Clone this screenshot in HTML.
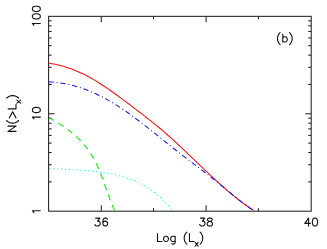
<!DOCTYPE html>
<html><head><meta charset="utf-8"><style>
html,body{margin:0;padding:0;background:#fff;}
svg{display:block;}
text{font-family:"Liberation Sans",sans-serif;fill:#222;}
</style></head><body>
<svg width="327" height="249" viewBox="0 0 327 249">
<rect width="327" height="249" fill="#fff"/>
<g stroke="#222" stroke-width="1.05" fill="none">
<rect x="48.60" y="16.35" width="262.60" height="194.85"/>
<line x1="101.30" y1="211.20" x2="101.30" y2="205.20"/>
<line x1="101.30" y1="16.35" x2="101.30" y2="22.35"/>
<line x1="153.50" y1="211.20" x2="153.50" y2="208.20"/>
<line x1="153.50" y1="16.35" x2="153.50" y2="19.35"/>
<line x1="206.10" y1="211.20" x2="206.10" y2="205.20"/>
<line x1="206.10" y1="16.35" x2="206.10" y2="22.35"/>
<line x1="258.40" y1="211.20" x2="258.40" y2="208.20"/>
<line x1="258.40" y1="16.35" x2="258.40" y2="19.35"/>
<line x1="48.60" y1="181.87" x2="51.60" y2="181.87"/>
<line x1="311.20" y1="181.87" x2="308.20" y2="181.87"/>
<line x1="48.60" y1="164.72" x2="51.60" y2="164.72"/>
<line x1="311.20" y1="164.72" x2="308.20" y2="164.72"/>
<line x1="48.60" y1="152.54" x2="51.60" y2="152.54"/>
<line x1="311.20" y1="152.54" x2="308.20" y2="152.54"/>
<line x1="48.60" y1="143.10" x2="51.60" y2="143.10"/>
<line x1="311.20" y1="143.10" x2="308.20" y2="143.10"/>
<line x1="48.60" y1="135.39" x2="51.60" y2="135.39"/>
<line x1="311.20" y1="135.39" x2="308.20" y2="135.39"/>
<line x1="48.60" y1="128.87" x2="51.60" y2="128.87"/>
<line x1="311.20" y1="128.87" x2="308.20" y2="128.87"/>
<line x1="48.60" y1="123.22" x2="51.60" y2="123.22"/>
<line x1="311.20" y1="123.22" x2="308.20" y2="123.22"/>
<line x1="48.60" y1="118.23" x2="51.60" y2="118.23"/>
<line x1="311.20" y1="118.23" x2="308.20" y2="118.23"/>
<line x1="48.60" y1="113.77" x2="54.60" y2="113.77"/>
<line x1="311.20" y1="113.77" x2="305.20" y2="113.77"/>
<line x1="48.60" y1="84.45" x2="51.60" y2="84.45"/>
<line x1="311.20" y1="84.45" x2="308.20" y2="84.45"/>
<line x1="48.60" y1="67.29" x2="51.60" y2="67.29"/>
<line x1="311.20" y1="67.29" x2="308.20" y2="67.29"/>
<line x1="48.60" y1="55.12" x2="51.60" y2="55.12"/>
<line x1="311.20" y1="55.12" x2="308.20" y2="55.12"/>
<line x1="48.60" y1="45.68" x2="51.60" y2="45.68"/>
<line x1="311.20" y1="45.68" x2="308.20" y2="45.68"/>
<line x1="48.60" y1="37.96" x2="51.60" y2="37.96"/>
<line x1="311.20" y1="37.96" x2="308.20" y2="37.96"/>
<line x1="48.60" y1="31.44" x2="51.60" y2="31.44"/>
<line x1="311.20" y1="31.44" x2="308.20" y2="31.44"/>
<line x1="48.60" y1="25.79" x2="51.60" y2="25.79"/>
<line x1="311.20" y1="25.79" x2="308.20" y2="25.79"/>
<line x1="48.60" y1="20.81" x2="51.60" y2="20.81"/>
<line x1="311.20" y1="20.81" x2="308.20" y2="20.81"/>
</g>
<g fill="none" stroke-width="1.05">
<path d="M48.50,168.22 C49.03,168.26 50.60,168.40 51.65,168.49 C52.70,168.57 53.75,168.65 54.80,168.73 C55.85,168.81 56.90,168.88 57.95,168.95 C59.00,169.01 60.05,169.08 61.11,169.14 C62.16,169.21 63.21,169.27 64.26,169.33 C65.31,169.39 66.36,169.44 67.41,169.50 C68.46,169.56 69.51,169.61 70.56,169.67 C71.61,169.73 72.66,169.79 73.71,169.84 C74.76,169.90 75.81,169.96 76.86,170.03 C77.91,170.09 78.96,170.15 80.01,170.22 C81.06,170.29 82.11,170.35 83.16,170.43 C84.21,170.50 85.26,170.58 86.32,170.66 C87.37,170.74 88.42,170.83 89.47,170.92 C90.52,171.02 91.57,171.11 92.62,171.22 C93.67,171.32 94.72,171.43 95.77,171.55 C96.82,171.67 97.87,171.80 98.92,171.93 C99.97,172.07 101.02,172.21 102.07,172.36 C103.12,172.51 104.17,172.67 105.22,172.84 C106.27,173.01 107.32,173.19 108.37,173.38 C109.42,173.57 110.48,173.77 111.53,173.99 C112.58,174.20 113.63,174.43 114.68,174.67 C115.73,174.90 116.78,175.15 117.83,175.42 C118.88,175.68 119.93,175.96 120.98,176.25 C122.03,176.54 123.08,176.85 124.13,177.17 C125.18,177.49 126.23,177.83 127.28,178.18 C128.33,178.53 129.38,178.90 130.43,179.29 C131.48,179.68 132.53,180.08 133.58,180.51 C134.64,180.94 135.69,181.39 136.74,181.86 C137.79,182.33 138.84,182.82 139.89,183.34 C140.94,183.87 141.99,184.41 143.04,184.99 C144.09,185.56 145.14,186.16 146.19,186.80 C147.24,187.43 148.29,188.09 149.34,188.79 C150.39,189.49 151.44,190.22 152.49,190.99 C153.54,191.76 154.59,192.57 155.64,193.41 C156.69,194.26 157.74,195.14 158.79,196.07 C159.85,197.00 160.90,197.97 161.95,198.98 C163.00,200.00 164.05,201.06 165.10,202.16 C166.15,203.27 167.20,204.43 168.25,205.63 C169.30,206.84 170.87,208.78 171.40,209.41" stroke="#00ffff" stroke-dasharray="1.2 2.7" stroke-dashoffset="-0.7"/>
<path d="M49.33,118.00 C50.05,118.40 52.25,119.59 53.64,120.38 C55.03,121.18 56.38,121.97 57.68,122.77 C58.98,123.56 60.24,124.36 61.46,125.15 C62.68,125.95 63.85,126.74 64.99,127.54 C66.13,128.33 67.22,129.13 68.28,129.92 C69.34,130.72 70.36,131.51 71.35,132.31 C72.33,133.10 73.28,133.90 74.20,134.69 C75.12,135.49 76.00,136.28 76.85,137.08 C77.70,137.87 78.52,138.67 79.31,139.46 C80.10,140.26 80.86,141.05 81.60,141.85 C82.33,142.64 83.03,143.44 83.71,144.23 C84.39,145.03 85.05,145.82 85.68,146.62 C86.31,147.41 86.91,148.21 87.50,149.00 C88.08,149.79 88.64,150.59 89.19,151.38 C89.73,152.18 90.25,152.97 90.76,153.77 C91.27,154.56 91.75,155.36 92.23,156.15 C92.70,156.95 93.15,157.74 93.60,158.54 C94.04,159.33 94.47,160.13 94.89,160.92 C95.30,161.72 95.71,162.51 96.10,163.31 C96.49,164.10 96.87,164.90 97.25,165.69 C97.62,166.49 97.98,167.28 98.33,168.08 C98.68,168.87 99.03,169.67 99.36,170.46 C99.70,171.26 100.02,172.05 100.34,172.85 C100.66,173.64 100.98,174.44 101.28,175.23 C101.59,176.03 101.89,176.82 102.19,177.62 C102.49,178.41 102.78,179.21 103.07,180.00 C103.35,180.79 103.64,181.59 103.92,182.38 C104.20,183.18 104.48,183.97 104.76,184.77 C105.04,185.56 105.32,186.36 105.59,187.15 C105.87,187.95 106.14,188.74 106.42,189.54 C106.70,190.33 106.97,191.13 107.25,191.92 C107.53,192.72 107.81,193.51 108.10,194.31 C108.38,195.10 108.67,195.90 108.96,196.69 C109.25,197.49 109.55,198.28 109.85,199.08 C110.15,199.87 110.45,200.67 110.77,201.46 C111.08,202.26 111.39,203.05 111.72,203.85 C112.05,204.64 112.38,205.44 112.72,206.23 C113.06,207.03 113.41,207.82 113.77,208.62 C114.13,209.41 114.69,210.60 114.87,211.00" stroke="#00ee00" stroke-dasharray="6.2 5" stroke-dashoffset="1"/>
<path d="M48.50,63.06 C49.08,63.16 50.82,63.44 51.98,63.66 C53.14,63.87 54.30,64.11 55.46,64.36 C56.62,64.62 57.78,64.89 58.94,65.18 C60.10,65.47 61.26,65.78 62.42,66.11 C63.57,66.43 64.73,66.78 65.89,67.15 C67.05,67.51 68.21,67.90 69.37,68.30 C70.53,68.70 71.69,69.13 72.85,69.57 C74.01,70.01 75.17,70.47 76.33,70.95 C77.49,71.44 78.65,71.94 79.81,72.46 C80.97,72.98 82.13,73.52 83.29,74.08 C84.45,74.64 85.61,75.22 86.77,75.82 C87.93,76.42 89.09,77.03 90.25,77.67 C91.41,78.31 92.56,78.98 93.72,79.65 C94.88,80.33 96.04,81.03 97.20,81.75 C98.36,82.47 99.52,83.20 100.68,83.95 C101.84,84.69 103.00,85.46 104.16,86.23 C105.32,87.01 106.48,87.80 107.64,88.60 C108.80,89.40 109.96,90.21 111.12,91.03 C112.28,91.85 113.44,92.68 114.60,93.51 C115.76,94.34 116.92,95.18 118.08,96.03 C119.24,96.88 120.40,97.73 121.56,98.58 C122.71,99.44 123.87,100.30 125.03,101.17 C126.19,102.03 127.35,102.90 128.51,103.78 C129.67,104.65 130.83,105.53 131.99,106.41 C133.15,107.29 134.31,108.18 135.47,109.06 C136.63,109.95 137.79,110.85 138.95,111.74 C140.11,112.63 141.27,113.53 142.43,114.43 C143.59,115.33 144.75,116.23 145.91,117.14 C147.07,118.04 148.23,118.95 149.39,119.86 C150.55,120.77 151.70,121.69 152.86,122.61 C154.02,123.54 155.18,124.47 156.34,125.41 C157.50,126.36 158.66,127.31 159.82,128.28 C160.98,129.25 162.14,130.23 163.30,131.22 C164.46,132.21 165.62,133.22 166.78,134.24 C167.94,135.26 169.10,136.29 170.26,137.33 C171.42,138.37 172.58,139.42 173.74,140.48 C174.90,141.54 176.06,142.61 177.22,143.68 C178.38,144.75 179.54,145.84 180.69,146.92 C181.85,148.01 183.01,149.11 184.17,150.21 C185.33,151.30 186.49,152.41 187.65,153.51 C188.81,154.62 189.97,155.73 191.13,156.84 C192.29,157.95 193.45,159.06 194.61,160.18 C195.77,161.29 196.93,162.40 198.09,163.52 C199.25,164.63 200.41,165.74 201.57,166.85 C202.73,167.96 203.89,169.06 205.05,170.16 C206.21,171.27 207.37,172.36 208.53,173.46 C209.69,174.55 210.84,175.64 212.00,176.72 C213.16,177.80 214.32,178.87 215.48,179.94 C216.64,181.01 217.80,182.07 218.96,183.11 C220.12,184.16 221.28,185.20 222.44,186.23 C223.60,187.26 224.76,188.28 225.92,189.28 C227.08,190.29 228.24,191.28 229.40,192.26 C230.56,193.24 231.72,194.21 232.88,195.16 C234.04,196.11 235.20,197.05 236.36,197.97 C237.52,198.89 238.68,199.80 239.83,200.68 C240.99,201.57 242.15,202.44 243.31,203.29 C244.47,204.14 245.63,204.97 246.79,205.78 C247.95,206.59 249.11,207.38 250.27,208.15 C251.43,208.92 253.17,210.02 253.75,210.39" stroke="#ff1010"/>
<path d="M48.50,81.94 C49.08,81.96 50.82,82.02 51.98,82.09 C53.14,82.16 54.30,82.25 55.46,82.36 C56.62,82.47 57.78,82.60 58.94,82.75 C60.10,82.90 61.26,83.07 62.42,83.26 C63.57,83.44 64.73,83.65 65.89,83.87 C67.05,84.10 68.21,84.35 69.37,84.61 C70.53,84.87 71.69,85.15 72.85,85.45 C74.01,85.76 75.17,86.08 76.33,86.41 C77.49,86.75 78.65,87.11 79.81,87.48 C80.97,87.85 82.13,88.25 83.29,88.66 C84.45,89.07 85.61,89.50 86.77,89.94 C87.93,90.39 89.09,90.85 90.25,91.33 C91.41,91.81 92.56,92.31 93.72,92.83 C94.88,93.35 96.04,93.88 97.20,94.43 C98.36,94.98 99.52,95.55 100.68,96.13 C101.84,96.72 103.00,97.32 104.16,97.94 C105.32,98.56 106.48,99.19 107.64,99.84 C108.80,100.49 109.96,101.16 111.12,101.85 C112.28,102.53 113.44,103.23 114.60,103.95 C115.76,104.67 116.92,105.40 118.08,106.15 C119.24,106.90 120.40,107.66 121.56,108.44 C122.71,109.21 123.87,110.01 125.03,110.81 C126.19,111.61 127.35,112.43 128.51,113.26 C129.67,114.08 130.83,114.92 131.99,115.77 C133.15,116.62 134.31,117.48 135.47,118.35 C136.63,119.21 137.79,120.09 138.95,120.97 C140.11,121.86 141.27,122.75 142.43,123.65 C143.59,124.54 144.75,125.45 145.91,126.36 C147.07,127.27 148.23,128.18 149.39,129.10 C150.55,130.02 151.70,130.94 152.86,131.86 C154.02,132.79 155.18,133.72 156.34,134.65 C157.50,135.57 158.66,136.51 159.82,137.44 C160.98,138.37 162.14,139.30 163.30,140.23 C164.46,141.16 165.62,142.08 166.78,143.01 C167.94,143.94 169.10,144.86 170.26,145.78 C171.42,146.70 172.58,147.62 173.74,148.53 C174.90,149.44 176.06,150.35 177.22,151.25 C178.38,152.15 179.54,153.05 180.69,153.94 C181.85,154.83 183.01,155.72 184.17,156.61 C185.33,157.50 186.49,158.38 187.65,159.26 C188.81,160.15 189.97,161.03 191.13,161.91 C192.29,162.79 193.45,163.67 194.61,164.56 C195.77,165.44 196.93,166.32 198.09,167.21 C199.25,168.09 200.41,168.98 201.57,169.87 C202.73,170.76 203.89,171.66 205.05,172.56 C206.21,173.46 207.37,174.36 208.53,175.27 C209.69,176.18 210.84,177.09 212.00,178.01 C213.16,178.93 214.32,179.86 215.48,180.79 C216.64,181.72 217.80,182.65 218.96,183.59 C220.12,184.54 221.28,185.48 222.44,186.44 C223.60,187.39 224.76,188.35 225.92,189.31 C227.08,190.27 228.24,191.24 229.40,192.20 C230.56,193.16 231.72,194.12 232.88,195.08 C234.04,196.03 235.20,196.98 236.36,197.92 C237.52,198.86 238.68,199.79 239.83,200.70 C240.99,201.61 242.15,202.51 243.31,203.39 C244.47,204.26 245.63,205.12 246.79,205.96 C247.95,206.79 249.11,207.61 250.27,208.39 C251.43,209.17 253.17,210.27 253.75,210.65" stroke="#1010ff" stroke-dasharray="5.2 2.9 0.95 2.9"/>
</g>
<g fill="none" stroke="#111" stroke-width="1.1" stroke-linecap="round" stroke-linejoin="round">
<path transform="translate(101.30,226.00) rotate(0) translate(-7.52,0)" d="M1.88,-7.90 L6.02,-7.90 L3.76,-4.89 L4.89,-4.89 L5.64,-4.51 L6.02,-4.14 L6.39,-3.01 L6.39,-2.26 L6.02,-1.13 L5.26,-0.38 L4.14,0.00 L3.01,0.00 L1.88,-0.38 L1.50,-0.75 L1.13,-1.50 M13.54,-6.77 L13.16,-7.52 L12.03,-7.90 L11.28,-7.90 L10.15,-7.52 L9.40,-6.39 L9.02,-4.51 L9.02,-2.63 L9.40,-1.13 L10.15,-0.38 L11.28,0.00 L11.66,0.00 L12.78,-0.38 L13.54,-1.13 L13.91,-2.26 L13.91,-2.63 L13.54,-3.76 L12.78,-4.51 L11.66,-4.89 L11.28,-4.89 L10.15,-4.51 L9.40,-3.76 L9.02,-2.63"/>
<path transform="translate(206.10,226.00) rotate(0) translate(-7.52,0)" d="M1.88,-7.90 L6.02,-7.90 L3.76,-4.89 L4.89,-4.89 L5.64,-4.51 L6.02,-4.14 L6.39,-3.01 L6.39,-2.26 L6.02,-1.13 L5.26,-0.38 L4.14,0.00 L3.01,0.00 L1.88,-0.38 L1.50,-0.75 L1.13,-1.50 M10.53,-7.90 L9.40,-7.52 L9.02,-6.77 L9.02,-6.02 L9.40,-5.26 L10.15,-4.89 L11.66,-4.51 L12.78,-4.14 L13.54,-3.38 L13.91,-2.63 L13.91,-1.50 L13.54,-0.75 L13.16,-0.38 L12.03,0.00 L10.53,0.00 L9.40,-0.38 L9.02,-0.75 L8.65,-1.50 L8.65,-2.63 L9.02,-3.38 L9.78,-4.14 L10.90,-4.51 L12.41,-4.89 L13.16,-5.26 L13.54,-6.02 L13.54,-6.77 L13.16,-7.52 L12.03,-7.90 L10.53,-7.90"/>
<path transform="translate(311.20,226.00) rotate(0) translate(-7.52,0)" d="M4.89,-7.90 L1.13,-2.63 L6.77,-2.63 M4.89,-7.90 L4.89,0.00 M10.90,-7.90 L9.78,-7.52 L9.02,-6.39 L8.65,-4.51 L8.65,-3.38 L9.02,-1.50 L9.78,-0.38 L10.90,0.00 L11.66,0.00 L12.78,-0.38 L13.54,-1.50 L13.91,-3.38 L13.91,-4.51 L13.54,-6.39 L12.78,-7.52 L11.66,-7.90 L10.90,-7.90"/>
<path transform="translate(156.00,241.50) rotate(0) translate(0.00,0)" d="M1.50,-7.90 L1.50,0.00 M1.50,0.00 L6.02,0.00 M9.40,-5.26 L8.65,-4.89 L7.90,-4.14 L7.52,-3.01 L7.52,-2.26 L7.90,-1.13 L8.65,-0.38 L9.40,0.00 L10.53,0.00 L11.28,-0.38 L12.03,-1.13 L12.41,-2.26 L12.41,-3.01 L12.03,-4.14 L11.28,-4.89 L10.53,-5.26 L9.40,-5.26 M19.18,-5.26 L19.18,0.75 L18.80,1.88 L18.42,2.26 L17.67,2.63 L16.54,2.63 L15.79,2.26 M19.18,-4.14 L18.42,-4.89 L17.67,-5.26 L16.54,-5.26 L15.79,-4.89 L15.04,-4.14 L14.66,-3.01 L14.66,-2.26 L15.04,-1.13 L15.79,-0.38 L16.54,0.00 L17.67,0.00 L18.42,-0.38 L19.18,-1.13 M30.83,-9.40 L30.08,-8.65 L29.33,-7.52 L28.58,-6.02 L28.20,-4.14 L28.20,-2.63 L28.58,-0.75 L29.33,0.75 L30.08,1.88 L30.83,2.63 M33.46,-7.90 L33.46,0.00 M33.46,0.00 L37.98,0.00 M39.16,0.91 L42.14,4.70 M42.14,0.91 L39.16,4.70 M44.08,-9.40 L44.83,-8.65 L45.59,-7.52 L46.34,-6.02 L46.71,-4.14 L46.71,-2.63 L46.34,-0.75 L45.59,0.75 L44.83,1.88 L44.08,2.63"/>
<path transform="translate(276.00,42.00) rotate(0) translate(0.00,0)" d="M4.14,-9.40 L3.38,-8.65 L2.63,-7.52 L1.88,-6.02 L1.50,-4.14 L1.50,-2.63 L1.88,-0.75 L2.63,0.75 L3.38,1.88 L4.14,2.63 M6.77,-7.90 L6.77,0.00 M6.77,-4.14 L7.52,-4.89 L8.27,-5.26 L9.40,-5.26 L10.15,-4.89 L10.90,-4.14 L11.28,-3.01 L11.28,-2.26 L10.90,-1.13 L10.15,-0.38 L9.40,0.00 L8.27,0.00 L7.52,-0.38 L6.77,-1.13 M13.54,-9.40 L14.29,-8.65 L15.04,-7.52 L15.79,-6.02 L16.17,-4.14 L16.17,-2.63 L15.79,-0.75 L15.04,0.75 L14.29,1.88 L13.54,2.63"/>
<path transform="translate(40.30,16.35) rotate(-90) translate(-11.28,0)" d="M2.26,-6.39 L3.01,-6.77 L4.14,-7.90 L4.14,0.00 M10.90,-7.90 L9.78,-7.52 L9.02,-6.39 L8.65,-4.51 L8.65,-3.38 L9.02,-1.50 L9.78,-0.38 L10.90,0.00 L11.66,0.00 L12.78,-0.38 L13.54,-1.50 L13.91,-3.38 L13.91,-4.51 L13.54,-6.39 L12.78,-7.52 L11.66,-7.90 L10.90,-7.90 M18.42,-7.90 L17.30,-7.52 L16.54,-6.39 L16.17,-4.51 L16.17,-3.38 L16.54,-1.50 L17.30,-0.38 L18.42,0.00 L19.18,0.00 L20.30,-0.38 L21.06,-1.50 L21.43,-3.38 L21.43,-4.51 L21.06,-6.39 L20.30,-7.52 L19.18,-7.90 L18.42,-7.90"/>
<path transform="translate(40.30,113.77) rotate(-90) translate(-7.52,0)" d="M2.26,-6.39 L3.01,-6.77 L4.14,-7.90 L4.14,0.00 M10.90,-7.90 L9.78,-7.52 L9.02,-6.39 L8.65,-4.51 L8.65,-3.38 L9.02,-1.50 L9.78,-0.38 L10.90,0.00 L11.66,0.00 L12.78,-0.38 L13.54,-1.50 L13.91,-3.38 L13.91,-4.51 L13.54,-6.39 L12.78,-7.52 L11.66,-7.90 L10.90,-7.90"/>
<path transform="translate(40.30,211.20) rotate(-90) translate(-3.76,0)" d="M2.26,-6.39 L3.01,-6.77 L4.14,-7.90 L4.14,0.00"/>
<path transform="translate(16.00,113.50) rotate(-90) translate(-19.41,0)" d="M1.50,-7.90 L1.50,0.00 M1.50,-7.90 L6.77,0.00 M6.77,-7.90 L6.77,0.00 M12.41,-9.40 L11.66,-8.65 L10.90,-7.52 L10.15,-6.02 L9.78,-4.14 L9.78,-2.63 L10.15,-0.75 L10.90,0.75 L11.66,1.88 L12.41,2.63 M15.04,-6.77 L21.06,-3.38 L15.04,0.00 M24.06,-7.90 L24.06,0.00 M24.06,0.00 L28.58,0.00 M29.76,0.91 L32.74,4.70 M32.74,0.91 L29.76,4.70 M34.68,-9.40 L35.43,-8.65 L36.19,-7.52 L36.94,-6.02 L37.31,-4.14 L37.31,-2.63 L36.94,-0.75 L36.19,0.75 L35.43,1.88 L34.68,2.63"/>
</g>

</svg>
</body></html>
